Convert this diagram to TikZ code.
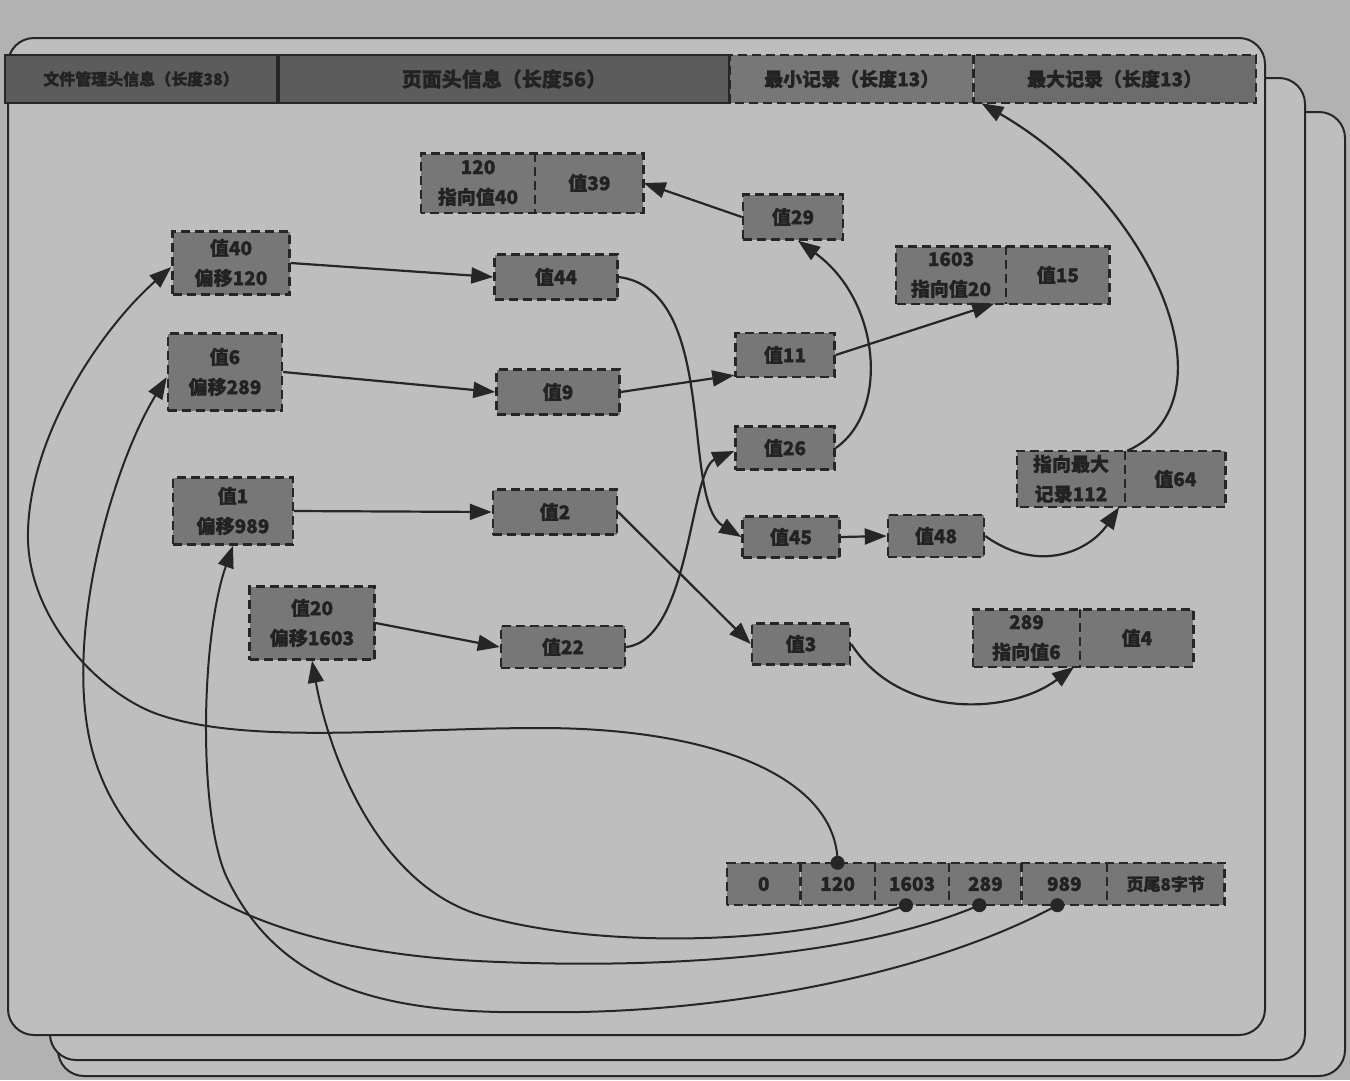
\documentclass[tikz,border=0pt]{standalone}
\usepackage{fontspec}
\newfontfamily\cjk[FakeBold=1.2]{Noto Sans CJK SC}
\usetikzlibrary{arrows.meta,calc}
\pgfdeclarelayer{background}
\pgfsetlayers{background,main}
\definecolor{canvas}{HTML}{B2B2B2}
\definecolor{pagegray}{HTML}{BEBEBE}
\definecolor{boxgray}{HTML}{777777}
\definecolor{boxdark}{HTML}{6C6C6C}
\definecolor{hdrdark}{HTML}{5C5C5C}
\definecolor{txt}{HTML}{222222}
\newcommand\bfnt{\cjk\bfseries\fontsize{19}{30}\selectfont}
\newcommand\sfnt{\cjk\bfseries\fontsize{19}{24}\selectfont}
\begin{document}
\begin{tikzpicture}[x=1pt,y=-1pt,
  dsh/.style={draw=black!85, line width=2.4pt, dash pattern=on 9pt off 5pt},
  recf/.style={fill=boxgray, inner sep=0pt, align=center, text=txt, font=\bfnt},
  rec/.style={recf, dsh},
  hdr/.style={draw=black!85, line width=2pt, fill=hdrdark, inner sep=0pt, text=txt},
  con/.style={line width=2.2pt, draw=black!85, -{Triangle[length=22pt,width=16pt]}},
  ptr/.style={line width=2pt, draw=black!85, -{Triangle[length=22pt,width=16pt]}},
  dot/.style={fill=black!85},
  frame/.style={draw=black!85, line width=2pt, fill=pagegray, rounded corners=26pt}]
\useasboundingbox (0,0) rectangle (1350,1080);
\begin{pgfonlayer}{background}
  \fill[canvas] (0,0) rectangle (1350,1080);
  \draw[frame] (58,112) rectangle (1345,1076);
  \draw[frame] (50,78) rectangle (1305,1060);
  \draw[frame] (8,38) rectangle (1265,1035);
\end{pgfonlayer}

% header
\node[hdr, minimum width=272pt, minimum height=48pt, font=\cjk\bfseries\fontsize{16}{20}\selectfont] (hf) at (141,79) {文件管理头信息（长度38）};
\node[hdr, minimum width=450pt, minimum height=48pt, anchor=west, font=\cjk\bfseries\fontsize{20}{24}\selectfont] (hp) at (hf.east) {页面头信息（长度56）};
\node[recf, minimum width=243pt, minimum height=48pt, anchor=west, font=\cjk\bfseries\fontsize{19}{24}\selectfont] (hmin) at (hp.east) {最小记录（长度13）};
\node[recf, fill=boxdark, minimum width=282pt, minimum height=48pt, anchor=west, font=\cjk\bfseries\fontsize{19}{24}\selectfont] (hmax) at (hmin.east) {最大记录（长度13）};
\draw[dsh] (hmin.south west) rectangle (hmax.north east);
\draw[dsh] (hmin.north east) -- (hmin.south east);

% left column records
\node[rec, minimum width=117pt, minimum height=63pt] (v40) at (231,263) {值40\\偏移120};
\node[rec, minimum width=114pt, minimum height=77pt] (v6) at (225,372) {值6\\偏移289};
\node[rec, minimum width=120pt, minimum height=67pt] (v1) at (233,511) {值1\\偏移989};
\node[rec, minimum width=125pt, minimum height=73pt] (v20) at (312,623) {值20\\偏移1603};

% middle column
\node[rec, minimum width=123pt, minimum height=45pt] (v44) at (556,277) {值44};
\node[rec, minimum width=123pt, minimum height=45pt] (v9) at (558,392) {值9};
\node[rec, minimum width=124pt, minimum height=45pt] (v2) at (555,512) {值2};
\node[rec, minimum width=124pt, minimum height=42pt] (v22) at (563,647) {值22};

% pair 120 | 39
\node[recf, minimum width=114pt, minimum height=59pt] (p120) at (478,183) {120\\指向值40};
\node[recf, minimum width=108pt, minimum height=59pt, anchor=west] (v39) at (p120.east) {值39};
\draw[dsh] (p120.south west) rectangle (v39.north east);
\draw[dsh] (p120.north east) -- (p120.south east);

\node[rec, minimum width=100pt, minimum height=45pt] (v29) at (793,217) {值29};

% pair 1603 | 15
\node[recf, minimum width=110pt, minimum height=57pt] (p1603) at (951,275) {1603\\指向值20};
\node[recf, minimum width=103pt, minimum height=57pt, anchor=west] (v15) at (p1603.east) {值15};
\draw[dsh] (p1603.south west) rectangle (v15.north east);
\draw[dsh] (p1603.north east) -- (p1603.south east);

\node[rec, minimum width=99pt, minimum height=44pt] (v11) at (785,355) {值11};
\node[rec, minimum width=99pt, minimum height=43pt] (v26) at (785,448) {值26};
\node[rec, minimum width=97pt, minimum height=41pt] (v45) at (791,537) {值45};
\node[rec, minimum width=96pt, minimum height=42pt] (v48) at (936,536) {值48};
\node[rec, minimum width=98pt, minimum height=41pt] (v3) at (801,644) {值3};

% pair max | 64
\node[recf, minimum width=108pt, minimum height=56pt] (pmax) at (1071,479) {指向最大\\记录112};
\node[recf, minimum width=100pt, minimum height=56pt, anchor=west] (v64) at (pmax.east) {值64};
\draw[dsh] (pmax.south west) rectangle (v64.north east);
\draw[dsh] (pmax.north east) -- (pmax.south east);

% pair 289 | 4
\node[recf, minimum width=107pt, minimum height=57pt] (p289) at (1026.5,638) {289\\指向值6};
\node[recf, minimum width=113pt, minimum height=57pt, anchor=west] (v4) at (p289.east) {值4};
\draw[dsh] (p289.south west) rectangle (v4.north east);
\draw[dsh] (p289.north east) -- (p289.south east);

% slot directory
\node[recf, font=\sfnt, minimum width=73pt, minimum height=42pt, anchor=west] (s0) at (727,884) {0};
\node[recf, font=\sfnt, minimum width=74pt, minimum height=42pt, anchor=west] (s120) at (s0.east) {120};
\node[recf, font=\sfnt, minimum width=74pt, minimum height=42pt, anchor=west] (s1603) at (s120.east) {1603};
\node[recf, font=\sfnt, minimum width=72pt, minimum height=42pt, anchor=west] (s289) at (s1603.east) {289};
\node[recf, font=\sfnt, minimum width=85pt, minimum height=42pt, anchor=west] (s989) at (s289.east) {989};
\node[recf, font=\cjk\bfseries\fontsize{17}{20}\selectfont, minimum width=117pt, minimum height=42pt, anchor=west] (stail) at (s989.east) {页尾8字节};
\draw[dsh] (s0.south west) rectangle (stail.north east);
\foreach \n in {s0,s120,s1603,s289,s989} \draw[dsh] (\n.north east) -- (\n.south east);

% straight record links
\draw[con] (v40.east) -- (v44.west);
\draw[con] (v6.east) -- (v9.west);
\draw[con] (v1.east) -- (v2.west);
\draw[con] (v20.east) -- (v22.west);
\draw[con] (v9.east) -- ([yshift=3pt]v11.south west);
\draw[con] (v11.east) -- ([xshift=-12pt]p1603.south east);
\draw[con] (v29.west) -- (v39.east);
\draw[con] (v45.east) -- (v48.west);
\draw[con] (v2.east) -- (v3.west);

% curved record links
\draw[con] (v44.east) .. controls (720,290) and (680,500) .. (v45.west);
\draw[con] (v22.east) .. controls (690,640) and (690,470) .. ([yshift=-3pt]v26.west);
\draw[con] (v26.east) .. controls (890,410) and (880,300) .. ([xshift=5pt]v29.south);
\draw[con] (v48.east) .. controls (1040,575) and (1090,550) .. ([xshift=-6pt]pmax.south east);
\draw[con] ([xshift=2pt]v64.north west) .. controls (1240,400) and (1150,200) .. ([xshift=8pt]hmax.south west);
\draw[con] (v3.east) .. controls (900,720) and (1010,715) .. ([xshift=-6pt]p289.south east);

% slot pointers
\draw[ptr] (s120.north) .. controls (837,780) and (720,728) .. (540,728)
  .. controls (400,728) and (250,745) .. (160,715)
  .. controls (100,695) and (30,620) .. (28,540)
  .. controls (26,440) and (100,330) .. ([yshift=-4pt]v40.west);
\draw[ptr] ([xshift=-6pt]s1603.south) .. controls (800,945) and (600,950) .. (480,915)
  .. controls (380,885) and (330,760) .. (v20.south);
\draw[ptr] ([xshift=-6pt]s289.south) .. controls (850,960) and (650,968) .. (500,962)
  .. controls (300,955) and (140,900) .. (95,760)
  .. controls (60,650) and (110,470) .. ([yshift=-5pt]v6.west);
\draw[ptr] ([xshift=-7pt]s989.south) .. controls (920,980) and (700,1015) .. (540,1012)
  .. controls (380,1015) and (280,985) .. (228,880)
  .. controls (198,820) and (200,640) .. (v1.south);

\fill[dot] (s120.north) circle (7pt);
\fill[dot] ([xshift=-6pt]s1603.south) circle (7pt);
\fill[dot] ([xshift=-6pt]s289.south) circle (7pt);
\fill[dot] ([xshift=-7pt]s989.south) circle (7pt);
\end{tikzpicture}
\end{document}
